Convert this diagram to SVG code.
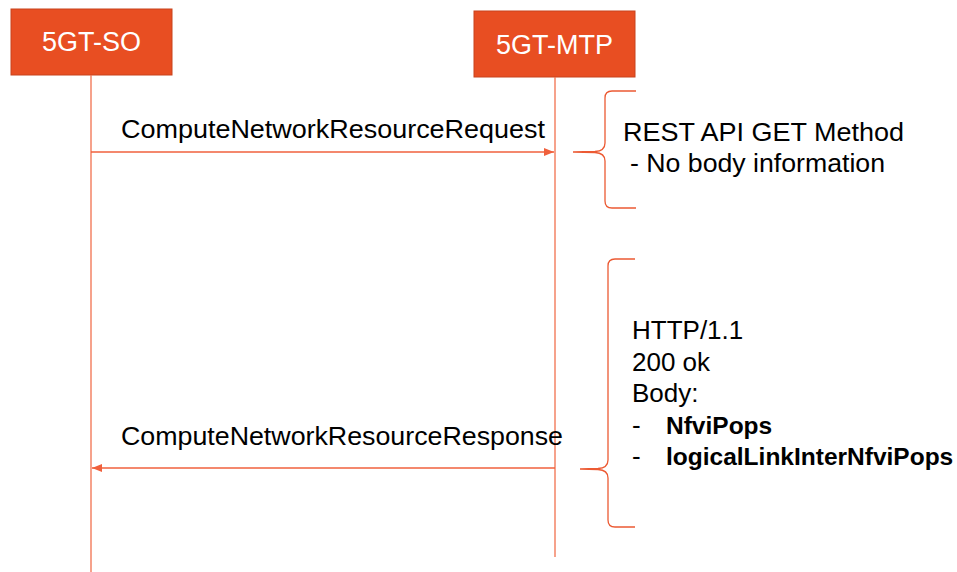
<svg xmlns="http://www.w3.org/2000/svg" width="957" height="572" viewBox="0 0 957 572">
<style>
.box{fill:#E84E22;stroke:#C8431D;stroke-width:1}
.bt{font-family:"Liberation Sans",Arial,sans-serif;font-size:27px;fill:#fff;text-anchor:middle}
.life{stroke:#F2704E;stroke-width:1.3;fill:none}
.msg{stroke:#F0603C;stroke-width:1.3;fill:none}
.brace{stroke:#EC5A33;stroke-width:1.3;fill:none}
.t{font-family:"Liberation Sans",Arial,sans-serif;font-size:26px;fill:#000}
.b{font-weight:bold;font-size:24.5px}
</style>
<defs>
<marker id="ah" viewBox="0 0 10 10" refX="10" refY="5" markerWidth="10" markerHeight="10" markerUnits="userSpaceOnUse" orient="auto">
<path d="M0,1 L10,5 L0,9 Z" fill="#F0603C"/>
</marker>
</defs>
<g id="node-so">
<rect class="box" x="11" y="9" width="161" height="66"/>
<text class="bt" x="91.5" y="51">5GT-SO</text>
</g>
<g id="node-mtp">
<rect class="box" x="474" y="11" width="161" height="66"/>
<text class="bt" x="554.5" y="54">5GT-MTP</text>
</g>
<g id="connectors">
<line class="life" x1="91" y1="75" x2="91" y2="572"/>
<line class="life" x1="555" y1="77" x2="555" y2="557"/>
<line class="msg" x1="91" y1="152" x2="554" y2="152" marker-end="url(#ah)"/>
<line class="msg" x1="555" y1="468" x2="92" y2="468" marker-end="url(#ah)"/>
<path class="brace" d="M636,91 L612,91 Q605,91 605,98 L605,143 Q605,151 595,151.5 L573,152 L595,152.5 Q605,153 605,161 L605,201 Q605,208 612,208 L636,208"/>
<path class="brace" d="M635,259 L615,259 Q608,259 608,266 L608,460 Q608,468 598,468.5 L580,469 L598,469.5 Q608,470 608,478 L608,520 Q608,527 615,527 L635,527"/>
</g>
<g id="labels">
<text class="t" x="121" y="138" textLength="424" lengthAdjust="spacingAndGlyphs">ComputeNetworkResourceRequest</text>
<text class="t" x="121" y="445" textLength="442" lengthAdjust="spacingAndGlyphs">ComputeNetworkResourceResponse</text>
<text class="t" x="623" y="141" textLength="281" lengthAdjust="spacingAndGlyphs">REST API GET Method</text>
<text class="t" x="630" y="172" textLength="255" lengthAdjust="spacingAndGlyphs">- No body information</text>
<text class="t" x="632" y="339">HTTP/1.1</text>
<text class="t" x="632" y="371">200 ok</text>
<text class="t" x="632" y="402">Body:</text>
<text class="t" x="632" y="434">-</text>
<text class="t b" x="666" y="434">NfviPops</text>
<text class="t" x="632" y="465">-</text>
<text class="t b" x="666" y="465">logicalLinkInterNfviPops</text>
</g>
</svg>
